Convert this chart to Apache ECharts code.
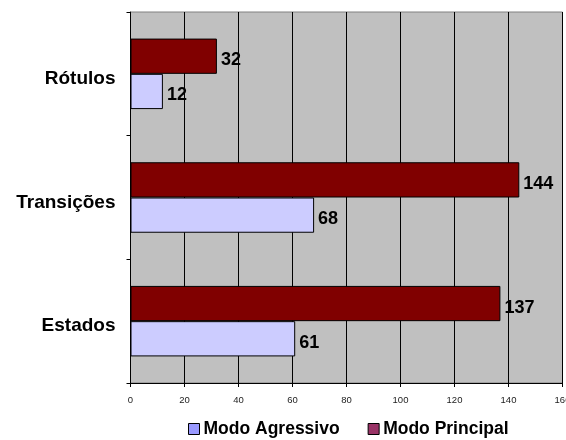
<!DOCTYPE html>
<html>
<head>
<meta charset="utf-8">
<script src="https://cdn.jsdelivr.net/npm/echarts@6/dist/echarts.min.js"></script>
<style>
  html, body { margin: 0; padding: 0; background: #fff; }
  #chart-container { width: 566px; height: 440px; }
</style>
</head>
<body>
<div id="chart-container"></div>
<script>
const categories = ['Estados', 'Transições', 'Rótulos'];
const agressivo = [61, 68, 12];
const principal = [137, 144, 32];
const xTicks = { min: 0, max: 160, interval: 20 };

document.addEventListener('DOMContentLoaded', () => {
  const chart = echarts.init(document.getElementById('chart-container'));
  const font = "'Liberation Sans', Arial, sans-serif";

  const barLabel = {
    show: true,
    position: 'right',
    distance: 4,
    offset: [0, 4],
    color: '#000',
    fontFamily: font,
    fontWeight: 'bold',
    fontSize: 18
  };

  const option = {
    animation: false,
    grid: {
      left: 130.5, right: 3.5, top: 12, bottom: 57,
      outerBoundsMode: 'none',
      containLabel: false,
      show: true,
      backgroundColor: '#C0C0C0',
      borderColor: '#808080',
      borderWidth: 1
    },
    legend: {
      top: 415,
      left: 183,
      icon: 'rect',
      itemWidth: 11,
      itemHeight: 11,
      itemGap: 28,
      textStyle: { fontFamily: font, fontWeight: 'bold', fontSize: 17.5, color: '#000', padding: [0, 0, 0, -1] },
      data: [
        { name: 'Modo Agressivo', itemStyle: { color: '#9999FF', borderColor: '#000', borderWidth: 1 } },
        { name: 'Modo Principal', itemStyle: { color: '#993366', borderColor: '#000', borderWidth: 1 } }
      ]
    },
    xAxis: {
      type: 'value',
      min: xTicks.min,
      max: xTicks.max,
      interval: xTicks.interval,
      axisLine: { show: true, lineStyle: { color: '#000', width: 1 } },
      axisTick: { show: true, length: 4, lineStyle: { color: '#000' } },
      axisLabel: { fontFamily: font, fontSize: 9.5, color: '#222', margin: 12, showMaxLabel: true },
      splitLine: { show: true, lineStyle: { color: '#000', width: 1 } }
    },
    yAxis: {
      type: 'category',
      data: categories,
      axisLine: { show: true, lineStyle: { color: '#000', width: 1 } },
      axisTick: { show: true, length: 4, lineStyle: { color: '#000' } },
      axisLabel: {
        fontFamily: font, fontWeight: 'bold', fontSize: 19, color: '#000', margin: 15,
        verticalAlign: 'top', lineHeight: 10
      }
    },
    series: [
      {
        name: 'Modo Principal',
        type: 'bar',
        data: principal,
        barGap: '0%',
        barCategoryGap: '43%',
        itemStyle: { color: '#800000', borderColor: '#000', borderWidth: 1 },
        label: barLabel
      },
      {
        name: 'Modo Agressivo',
        type: 'bar',
        data: agressivo,
        barGap: '0%',
        barCategoryGap: '43%',
        itemStyle: { color: '#CCCCFF', borderColor: '#000', borderWidth: 1 },
        label: barLabel
      }
    ]
  };

  chart.setOption(option);
});
</script>
</body>
</html>
